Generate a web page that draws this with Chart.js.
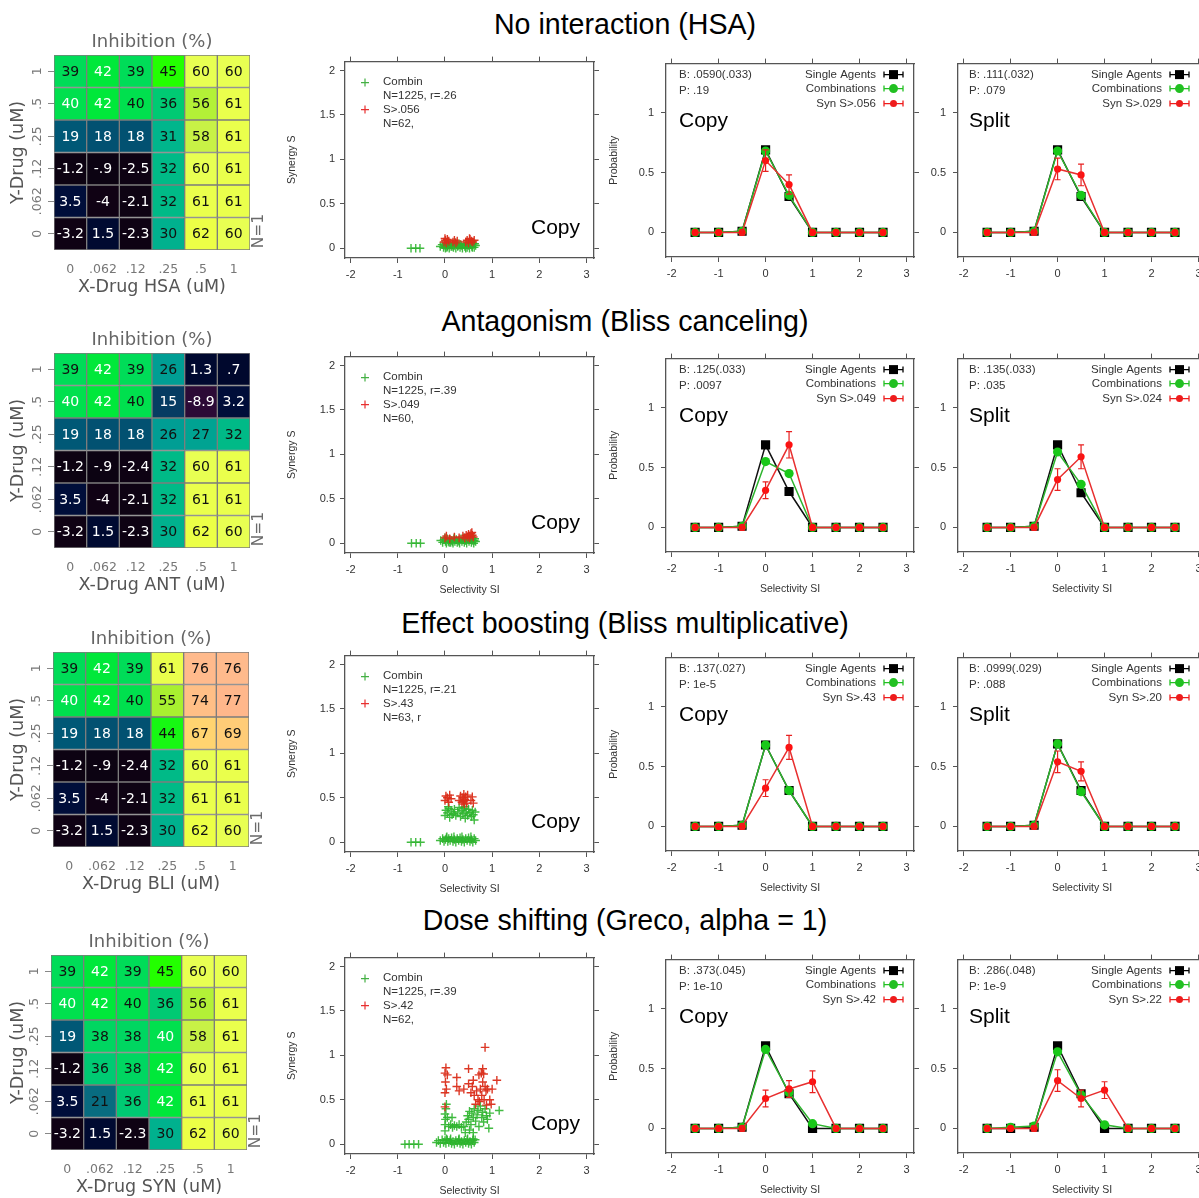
<!DOCTYPE html>
<html><head><meta charset="utf-8">
<script src="https://cdn.jsdelivr.net/npm/chart.js@4.4.1/dist/chart.umd.min.js"></script>
<style>
html,body{margin:0;padding:0;background:#fff;overflow:hidden;}
body{position:relative;width:1199px;height:1198px;}
canvas{position:absolute;}
.rt{position:absolute;left:0;width:1250px;text-align:center;font-family:'Liberation Sans',Arial,sans-serif;font-size:28.6px;color:#000;line-height:32px;white-space:nowrap;}
</style></head><body>
<script>
// ---------------- DATA ----------------
const rowTitles = ['No interaction (HSA)','Antagonism (Bliss canceling)','Effect boosting (Bliss multiplicative)','Dose shifting (Greco, alpha = 1)'];
const drugNames = ['HSA','ANT','BLI','SYN'];
const doseLabels = ['0','.062','.12','.25','.5','1'];
const yDoseLabels = ['1','.5','.25','.12','.062','0'];
const siBins = [-1.5,-1,-0.5,0,0.5,1,1.5,2,2.5];
const siTicks = [-2,-1,0,1,2,3];
const synTicks = [0,0.5,1,1.5,2];
const probTicks = [0,0.5,1];

// inhibition (%) grids, rows from Y=1 (top) to Y=0 (bottom)
const inhibHSA = [[39,42,39,45,60,60],[40,42,40,36,56,61],[19,18,18,31,58,61],[-1.2,-0.9,-2.5,32,60,61],[3.5,-4,-2.1,32,61,61],[-3.2,1.5,-2.3,30,62,60]];
const inhibANT = [[39,42,39,26,1.3,0.7],[40,42,40,15,-8.9,3.2],[19,18,18,26,27,32],[-1.2,-0.9,-2.4,32,60,61],[3.5,-4,-2.1,32,61,61],[-3.2,1.5,-2.3,30,62,60]];
const inhibBLI = [[39,42,39,61,76,76],[40,42,40,55,74,77],[19,18,18,44,67,69],[-1.2,-0.9,-2.4,32,60,61],[3.5,-4,-2.1,32,61,61],[-3.2,1.5,-2.3,30,62,60]];
const inhibSYN = [[39,42,39,45,60,60],[40,42,40,36,56,61],[19,38,38,40,58,61],[-1.2,36,38,42,60,61],[3.5,21,36,42,61,61],[-3.2,1.5,-2.3,30,62,60]];
// cells whose number is printed in white
const whiteHSA = [[0,1,0,0,0,0],[1,1,0,0,0,0],[1,1,1,0,0,0],[1,1,1,0,0,0],[1,1,1,0,0,0],[1,1,1,0,0,0]];
const whiteANT = [[0,1,0,0,1,1],[1,1,0,1,1,1],[1,1,1,0,0,0],[1,1,1,0,0,0],[1,1,1,0,0,0],[1,1,1,0,0,0]];
const whiteBLI = [[0,1,0,0,0,0],[1,1,0,0,0,0],[1,1,1,0,0,0],[1,1,1,0,0,0],[1,1,1,0,0,0],[1,1,1,0,0,0]];
const whiteSYN = [[0,1,0,0,0,0],[1,1,0,0,0,0],[1,0,0,1,0,0],[1,0,0,1,0,0],[1,0,0,1,0,0],[1,1,1,0,0,0]];

// scatter: [selectivity SI, synergy S]
const hsaCombin = [[-0.72,0],[-0.62,0],[-0.53,0],[-0.1,0.02],[-0.06,0.04],[-0.03,0.01],[0,0.03],[0.02,0.05],[0.04,0.01],[0.06,0.03],[0.09,0],[0.11,0.04],[0.13,0.02],[0.16,0.05],[0.18,0.01],[0.2,0.03],[0.23,0],[0.25,0.04],[0.27,0.02],[0.3,0.05],[0.32,0.01],[0.35,0.03],[0.37,0],[0.4,0.04],[0.42,0.02],[0.45,0.05],[0.47,0.01],[0.5,0.03],[0.52,0],[0.55,0.04],[0.57,0.02],[0.6,0.05],[0.62,0.01],[0.65,0.03],[0.01,0],[0.08,0.06],[0.15,0.02],[0.22,0.06],[0.33,0.04],[0.44,0],[0.53,0.06],[0.58,0.01],[0.63,0.05],[0.05,0.02],[0.28,0.03]];
const hsaSyn = [[-0.02,0.07],[0.01,0.09],[0.03,0.06],[0.05,0.1],[0.08,0.08],[0.17,0.07],[0.2,0.09],[0.23,0.06],[0.26,0.08],[0.44,0.07],[0.47,0.09],[0.5,0.06],[0.53,0.1],[0.56,0.08],[0.59,0.07],[0.62,0.09],[0,0.11],[0.52,0.11]];
const antCombin = [[-0.71,0],[-0.61,0],[-0.52,0],[-0.09,0.03],[-0.05,0.01],[-0.02,0.04],[0.01,0.02],[0.03,0],[0.05,0.05],[0.07,0.02],[0.1,0.04],[0.12,0.01],[0.14,0.03],[0.17,0],[0.19,0.05],[0.21,0.02],[0.24,0.04],[0.26,0.01],[0.29,0.03],[0.31,0],[0.34,0.05],[0.36,0.02],[0.39,0.04],[0.41,0.01],[0.43,0.03],[0.46,0],[0.48,0.05],[0.51,0.02],[0.54,0.04],[0.56,0.01],[0.59,0.03],[0.61,0],[0.63,0.05],[0.65,0.02],[0,0.06],[0.09,0.01],[0.2,0.06],[0.3,0.02],[0.4,0.06],[0.5,0.04],[0.57,0.06],[0.62,0.03],[0.16,0.02],[0.45,0.03]];
const antSyn = [[0,0.06],[0.03,0.08],[0.1,0.05],[0.2,0.07],[0.3,0.06],[0.38,0.08],[0.42,0.06],[0.45,0.09],[0.48,0.07],[0.5,0.1],[0.53,0.08],[0.55,0.11],[0.58,0.09],[0.6,0.07],[0.57,0.12],[0.52,0.06]];
const bliCombin = [[-0.72,0],[-0.62,0],[-0.52,0],[-0.1,0.02],[-0.05,0.04],[-0.02,0.01],[0.01,0.03],[0.03,0.05],[0.06,0.01],[0.08,0.04],[0.11,0.02],[0.14,0.05],[0.17,0.01],[0.2,0.03],[0.23,0],[0.26,0.04],[0.29,0.02],[0.32,0.05],[0.35,0.01],[0.38,0.03],[0.41,0],[0.44,0.04],[0.47,0.02],[0.5,0.05],[0.53,0.01],[0.56,0.03],[0.59,0],[0.62,0.04],[0.65,0.02],[0.04,0.06],[0.19,0.06],[0.36,0.06],[0.55,0.06],[0,0.3],[0.02,0.36],[0.05,0.33],[0.08,0.38],[0.1,0.28],[0.13,0.35],[0.15,0.31],[0.2,0.37],[0.23,0.3],[0.27,0.34],[0.3,0.39],[0.33,0.29],[0.36,0.36],[0.38,0.32],[0.4,0.38],[0.43,0.27],[0.45,0.34],[0.48,0.3],[0.5,0.37],[0.53,0.33],[0.56,0.29],[0.58,0.36],[0.6,0.31],[0.62,0.25],[0.64,0.34],[0.07,0.4],[0.18,0.32],[0.42,0.4]];
const bliSyn = [[0,0.47],[0.02,0.52],[0.05,0.5],[0.08,0.45],[0.1,0.53],[0.13,0.49],[0.3,0.47],[0.33,0.52],[0.36,0.45],[0.38,0.5],[0.4,0.54],[0.42,0.48],[0.44,0.51],[0.46,0.44],[0.48,0.53],[0.55,0.47],[0.58,0.51],[0.6,0.44],[0.39,0.46],[0.41,0.43]];
const synCombin = [[-0.85,0],[-0.76,0],[-0.66,0],[-0.56,0],[-0.18,0.02],[-0.14,0.04],[-0.1,0.01],[-0.06,0.05],[-0.03,0.02],[0,0.04],[0.02,0.01],[0.05,0.05],[0.08,0.02],[0.11,0.04],[0.14,0.01],[0.17,0.03],[0.2,0],[0.23,0.04],[0.26,0.02],[0.29,0.05],[0.32,0.01],[0.35,0.03],[0.38,0],[0.41,0.04],[0.44,0.02],[0.47,0.05],[0.5,0.01],[0.53,0.03],[0.56,0],[0.59,0.04],[0.62,0.02],[0.64,0.05],[0.03,0.06],[0.12,0.06],[0.3,0.06],[0.48,0.06],[0.6,0.06],[0,0.15],[0,0.22],[0.01,0.28],[0,0.34],[0.02,0.4],[0.03,0.45],[0.08,0.2],[0.12,0.22],[0.16,0.19],[0.2,0.21],[0.25,0.2],[0.3,0.22],[0.35,0.19],[0.4,0.2],[0.43,0.13],[0.45,0.25],[0.48,0.32],[0.5,0.28],[0.52,0.37],[0.55,0.22],[0.57,0.35],[0.6,0.3],[0.62,0.4],[0.65,0.26],[0.68,0.33],[0.7,0.38],[0.72,0.2],[0.75,0.43],[0.78,0.3],[0.8,0.36],[0.82,0.25],[0.85,0.4],[0.88,0.32],[0.9,0.28],[0.93,0.18],[0.95,0.35],[1.15,0.38],[0.6,0.13],[0.52,0.16],[0.15,0.3],[0.05,0.3]];
const synSyn = [[0,0.42],[0,0.58],[0.01,0.7],[0,0.8],[0.02,0.86],[0.05,0.78],[0.03,0.62],[0.25,0.65],[0.25,0.75],[0.5,0.68],[0.5,0.85],[0.55,0.58],[0.58,0.65],[0.6,0.72],[0.62,0.55],[0.65,0.45],[0.67,0.6],[0.7,0.5],[0.72,0.78],[0.73,0.48],[0.75,0.62],[0.77,0.8],[0.78,0.55],[0.8,0.85],[0.8,0.7],[0.82,0.79],[0.83,0.5],[0.85,0.65],[0.87,0.6],[0.88,0.44],[0.9,0.62],[0.95,0.5],[0.98,0.45],[1,0.62],[1.1,0.72],[0.85,1.09],[0.4,0.62],[0.3,0.6]];
const scatterLegends = [['N=1225, r=.26','S>.056','N=62,'],['N=1225, r=.39','S>.049','N=60,'],['N=1225, r=.21','S>.43','N=63, r'],['N=1225, r=.39','S>.42','N=62,']];

// probability vs selectivity bins
const hsaCopySingle = [0,0,0.01,0.69,0.30,0,0,0,0];
const hsaCopyComb   = [0,0,0.01,0.68,0.31,0,0,0,0];
const hsaCopySyn    = [0,0,0,0.60,0.40,0,0,0,0];
const hsaCopyErr    = [0,0,0.02,0.09,0.08,0,0,0,0];
const hsaSplitSingle= [0,0,0.01,0.69,0.30,0,0,0,0];
const hsaSplitComb  = [0,0,0.01,0.68,0.31,0,0,0,0];
const hsaSplitSyn   = [0,0,0,0.53,0.48,0,0,0,0];
const hsaSplitErr   = [0,0,0.02,0.09,0.09,0,0,0,0];
const antCopySingle = [0,0,0.01,0.69,0.30,0,0,0,0];
const antCopyComb   = [0,0,0.01,0.55,0.45,0,0,0,0];
const antCopySyn    = [0,0,0,0.31,0.69,0,0,0,0];
const antCopyErr    = [0,0,0.02,0.07,0.11,0,0,0,0];
const antSplitSingle= [0,0,0.01,0.69,0.29,0,0,0,0];
const antSplitComb  = [0,0,0.01,0.63,0.36,0,0,0,0];
const antSplitSyn   = [0,0,0,0.40,0.59,0,0,0,0];
const antSplitErr   = [0,0,0.02,0.09,0.10,0,0,0,0];
const bliCopySingle = [0,0,0.01,0.68,0.30,0,0,0,0];
const bliCopyComb   = [0,0,0.01,0.68,0.30,0,0,0,0];
const bliCopySyn    = [0,0,0,0.32,0.66,0,0,0,0];
const bliCopyErr    = [0,0,0.02,0.07,0.10,0,0,0,0];
const bliSplitSingle= [0,0,0.01,0.69,0.30,0,0,0,0];
const bliSplitComb  = [0,0,0.01,0.69,0.29,0,0,0,0];
const bliSplitSyn   = [0,0,0,0.54,0.46,0,0,0,0];
const bliSplitErr   = [0,0,0.02,0.09,0.08,0,0,0,0];
const synCopySingle = [0,0,0.01,0.69,0.29,0,0,0,0];
const synCopyComb   = [0,0,0.01,0.66,0.30,0.04,0,0,0];
const synCopySyn    = [0,0,0,0.25,0.33,0.39,0,0,0];
const synCopyErr    = [0,0,0.02,0.07,0.07,0.09,0,0,0];
const synSplitSingle= [0,0,0.01,0.69,0.29,0,0,0,0];
const synSplitComb  = [0,0.01,0.02,0.64,0.28,0.03,0,0,0];
const synSplitSyn   = [0,0,0,0.40,0.25,0.32,0,0,0];
const synSplitErr   = [0,0,0.02,0.09,0.07,0.07,0,0,0];
const hsaCopyText  = ['B: .0590(.033)','P: .19','Syn S>.056'];
const hsaSplitText = ['B: .111(.032)','P: .079','Syn S>.029'];
const antCopyText  = ['B: .125(.033)','P: .0097','Syn S>.049'];
const antSplitText = ['B: .135(.033)','P: .035','Syn S>.024'];
const bliCopyText  = ['B: .137(.027)','P: 1e-5','Syn S>.43'];
const bliSplitText = ['B: .0999(.029)','P: .088','Syn S>.20'];
const synCopyText  = ['B: .373(.045)','P: 1e-10','Syn S>.42'];
const synSplitText = ['B: .286(.048)','P: 1e-9','Syn S>.22'];

// ---------------- LAYOUT / STYLE ----------------
const rowTop = [60,355,654,956];
const heatTop = [55,353,652,955];
const heatLeft = [54,54,53,51];
const titleY = [24,321,623,920];
const SANS = "'Liberation Sans', Arial, sans-serif";
const HEAT = "'DejaVu Sans', Verdana, sans-serif";
Chart.defaults.animation = false;
Chart.defaults.font.family = SANS;

const heatStops = [[-9,[45,10,55]],[-4,[16,2,20]],[-0.5,[12,3,18]],[0.7,[0,8,45]],[3.5,[0,14,58]],[15,[6,60,98]],[19,[0,88,118]],[21,[8,108,128]],[26,[0,158,148]],[31,[0,182,140]],[36,[0,202,115]],[39,[0,220,88]],[42,[0,232,58]],[45,[35,255,0]],[55,[168,240,48]],[58,[200,242,70]],[60,[232,255,82]],[62,[236,255,70]],[67,[255,212,112]],[70,[255,200,122]],[76,[255,186,140]],[78,[255,180,138]]];
function heatColor(v){
  if (v<=heatStops[0][0]) return 'rgb('+heatStops[0][1].join(',')+')';
  for (let i=1;i<heatStops.length;i++){
    if (v<=heatStops[i][0]){
      const [a,ca]=heatStops[i-1],[b,cb]=heatStops[i];const t=(v-a)/(b-a);
      return 'rgb('+ca.map((c,k)=>Math.round(c+(cb[k]-c)*t)).join(',')+')';
    }
  }
  return 'rgb('+heatStops[heatStops.length-1][1].join(',')+')';
}
function fmtVal(v){let s=String(v);if(s.startsWith('0.'))s=s.slice(1);else if(s.startsWith('-0.'))s='-'+s.slice(2);return s;}
function addCanvas(l,t,w,h){const c=document.createElement('canvas');c.width=w;c.height=h;c.style.left=l+'px';c.style.top=t+'px';c.style.width=w+'px';c.style.height=h+'px';document.body.appendChild(c);return c;}
function rotText(ctx,txt,x,y){ctx.save();ctx.translate(x,y);ctx.rotate(-Math.PI/2);ctx.textAlign='center';ctx.textBaseline='middle';ctx.fillText(txt,0,0);ctx.restore();}

rowTitles.forEach((t,i)=>{const d=document.createElement('div');d.className='rt';d.style.top=(titleY[i]-16)+'px';d.textContent=t;document.body.appendChild(d);});

// ---------------- HEATMAPS ----------------
const heatValues=[inhibHSA,inhibANT,inhibBLI,inhibSYN];
const heatWhite=[whiteHSA,whiteANT,whiteBLI,whiteSYN];
function makeHeat(r){
  const values=heatValues[r], white=heatWhite[r];
  const gL=heatLeft[r], cw=196, cvT=heatTop[r]-35, cvW=280, cvH=290;
  const cv=addCanvas(0,cvT,cvW,cvH);
  const datasets=[];
  for(let d=0;d<6;d++){const row=values[5-d];
    datasets.push({data:row.map(()=>1),backgroundColor:row.map(heatColor),borderColor:'#7d7d7d',borderWidth:1,borderSkipped:false,barPercentage:1,categoryPercentage:1});}
  const plugin={id:'heatText',afterDatasetsDraw(chart){
    const ctx=chart.ctx,a=chart.chartArea;ctx.save();
    ctx.font='14px '+HEAT;ctx.textAlign='center';ctx.textBaseline='middle';
    chart.data.datasets.forEach((ds,d)=>{const meta=chart.getDatasetMeta(d);const rowI=5-d;
      meta.data.forEach((el,c)=>{ctx.fillStyle=white[rowI][c]?'#ffffff':'#111111';ctx.fillText(fmtVal(values[rowI][c]),el.x,(el.y+el.base)/2+1);});});
    const ys=chart.scales.y;ctx.fillStyle='#777';ctx.font='12.5px '+HEAT;
    yDoseLabels.forEach((lab,i)=>rotText(ctx,lab,a.left-16,ys.getPixelForValue(5.5-i)));
    ctx.fillStyle='#666';ctx.font='18px '+HEAT;ctx.fillText('Inhibition (%)',(a.left+a.right)/2,a.top-13);
    ctx.fillStyle='#6a6a6a';ctx.font='15.5px '+HEAT;rotText(ctx,'N=1',a.right+9,a.bottom-19);
    ctx.fillStyle='#555';ctx.font='17.5px '+HEAT;ctx.fillText('X-Drug '+drugNames[r]+' (uM)',(a.left+a.right)/2,a.bottom+37);
    rotText(ctx,'Y-Drug (uM)',18,(a.top+a.bottom)/2);
    ctx.restore();}};
  new Chart(cv,{type:'bar',data:{labels:doseLabels,datasets},plugins:[plugin],
    options:{responsive:false,events:[],layout:{padding:{left:0,top:35,right:cvW-gL-cw,bottom:0}},
      plugins:{legend:{display:false},tooltip:{enabled:false}},
      scales:{
        x:{type:'category',stacked:true,grid:{display:false},border:{display:false},ticks:{color:'#777',font:{family:HEAT,size:12.5},padding:4,maxRotation:0},afterFit:s=>{s.height=60;}},
        y:{type:'linear',stacked:true,min:0,max:6,afterBuildTicks:s=>{s.ticks=[0.5,1.5,2.5,3.5,4.5,5.5].map(v=>({value:v}));},ticks:{callback:()=>''},grid:{drawOnChartArea:false,tickLength:6,color:'#888'},border:{display:false},afterFit:s=>{s.width=gL;}}
      }}});
}

// ---------------- FRAMED PLOTS ----------------
function frameScales(cvL,cvT,cvW,cvH,a,xr,yr,yTicks,yPad){
  const tickFont={family:SANS,size:11};
  const grid={drawOnChartArea:false,tickLength:5,color:'#555',lineWidth:1};
  const border={display:true,color:'#555',width:1.3};
  const xt=s=>{s.ticks=siTicks.map(v=>({value:v}));};
  const yt=s=>{s.ticks=yTicks.map(v=>({value:v}));};
  return {
    x:{type:'linear',position:'bottom',min:xr[0],max:xr[1],afterBuildTicks:xt,ticks:{color:'#333',font:tickFont,padding:5,maxRotation:0,autoSkip:false,callback:v=>String(v)},grid,border,afterFit:s=>{s.height=cvT+cvH-a.b;}},
    x2:{type:'linear',position:'top',min:xr[0],max:xr[1],afterBuildTicks:xt,ticks:{callback:()=>'' ,autoSkip:false},grid,border,afterFit:s=>{s.height=a.t-cvT;}},
    y:{type:'linear',position:'left',min:yr[0],max:yr[1],afterBuildTicks:yt,ticks:{color:'#333',font:tickFont,padding:yPad,autoSkip:false,callback:v=>String(v)},grid,border,afterFit:s=>{s.width=a.l-cvL;}},
    y2:{type:'linear',position:'right',min:yr[0],max:yr[1],afterBuildTicks:yt,ticks:{callback:()=>'',autoSkip:false},grid,border,afterFit:s=>{s.width=6;}}
  };
}
function drawPlus(ctx,x,y,r,color){ctx.strokeStyle=color;ctx.lineWidth=1.2;ctx.beginPath();ctx.moveTo(x-r,y);ctx.lineTo(x+r,y);ctx.moveTo(x,y-r);ctx.lineTo(x,y+r);ctx.stroke();}

const scatterData=[[hsaCombin,hsaSyn],[antCombin,antSyn],[bliCombin,bliSyn],[synCombin,synSyn]];
function makeScatter(r){
  const cvL=280,cvT=rowTop[r]-10,cvW=325,cvH=(r===0?238:250);
  const a={l:345,r:594,t:rowTop[r],b:rowTop[r]+198};
  const cv=addCanvas(cvL,cvT,cvW,cvH);
  const toXY=arr=>arr.map(p=>({x:p[0],y:p[1]}));
  const leg=scatterLegends[r];
  const plugin={id:'scText',afterDraw(chart){
    const ctx=chart.ctx,ca=chart.chartArea;ctx.save();
    ctx.textBaseline='middle';ctx.textAlign='left';ctx.font='11.5px '+SANS;ctx.fillStyle='#333';
    drawPlus(ctx,ca.left+20,ca.top+21,4,'#44b044');ctx.fillText('Combin',ca.left+38,ca.top+20);
    ctx.fillText(leg[0],ca.left+38,ca.top+34);
    drawPlus(ctx,ca.left+20,ca.top+48,4,'#e83030');ctx.fillStyle='#333';ctx.fillText(leg[1],ca.left+38,ca.top+48);
    ctx.fillText(leg[2],ca.left+38,ca.top+62);
    ctx.fillStyle='#000';ctx.font='21px '+SANS;ctx.textAlign='right';ctx.textBaseline='alphabetic';ctx.fillText('Copy',ca.right-14,ca.bottom-24);
    ctx.fillStyle='#333';ctx.font='10.5px '+SANS;ctx.textBaseline='middle';
    rotText(ctx,'Synergy S',ca.left-53,(ca.top+ca.bottom)/2);
    ctx.textAlign='center';ctx.fillText('Selectivity SI',(ca.left+ca.right)/2,ca.bottom+37);
    ctx.restore();}};
  new Chart(cv,{type:'scatter',data:{datasets:[
      {label:'Combin',data:toXY(scatterData[r][0]),pointStyle:'cross',pointRadius:4.3,borderColor:'rgba(45,180,45,0.9)',borderWidth:1.4,order:2},
      {label:'Syn',data:toXY(scatterData[r][1]),pointStyle:'cross',pointRadius:4.3,borderColor:'rgba(218,45,25,0.95)',borderWidth:1.4,order:1}]},
    plugins:[plugin],
    options:{responsive:false,events:[],layout:{padding:{left:0,top:0,bottom:0,right:cvL+cvW-a.r-6}},
      plugins:{legend:{display:false},tooltip:{enabled:false}},
      scales:frameScales(cvL,cvT,cvW,cvH,a,[-2.12,3.16],[-0.11,2.1],synTicks,5)}});
}

const lineSets=[
  [[hsaCopySingle,hsaCopyComb,hsaCopySyn,hsaCopyErr,hsaCopyText],[hsaSplitSingle,hsaSplitComb,hsaSplitSyn,hsaSplitErr,hsaSplitText]],
  [[antCopySingle,antCopyComb,antCopySyn,antCopyErr,antCopyText],[antSplitSingle,antSplitComb,antSplitSyn,antSplitErr,antSplitText]],
  [[bliCopySingle,bliCopyComb,bliCopySyn,bliCopyErr,bliCopyText],[bliSplitSingle,bliSplitComb,bliSplitSyn,bliSplitErr,bliSplitText]],
  [[synCopySingle,synCopyComb,synCopySyn,synCopyErr,synCopyText],[synSplitSingle,synSplitComb,synSplitSyn,synSplitErr,synSplitText]]];
function legendSymbol(ctx,x0,x1,y,color,kind){
  ctx.strokeStyle=color;ctx.fillStyle=color;ctx.lineWidth=1.3;
  ctx.beginPath();ctx.moveTo(x0,y);ctx.lineTo(x1,y);ctx.moveTo(x0,y-3);ctx.lineTo(x0,y+3);ctx.moveTo(x1,y-3);ctx.lineTo(x1,y+3);ctx.stroke();
  const xm=(x0+x1)/2;ctx.beginPath();
  if(kind==='rect')ctx.rect(xm-4.5,y-4.5,9,9);else ctx.arc(xm,y,kind==='big'?4.5:3.5,0,Math.PI*2);
  ctx.fill();
}
function makeLine(r,which){
  const [single,comb,syn,err,txt]=lineSets[r][which];
  const copy=which===0;
  const cvL=copy?600:920,cvT=rowTop[r]-10,cvW=copy?325:300,cvH=(r===0?238:250);
  const a=copy?{l:666,r:914,t:rowTop[r],b:rowTop[r]+197}:{l:958,r:1206,t:rowTop[r],b:rowTop[r]+197};
  const cv=addCanvas(cvL,cvT,cvW,cvH);
  const pts=arr=>siBins.map((x,i)=>({x,y:arr[i]}));
  const plugin={id:'lineText',
    afterDatasetsDraw(chart){
      const ctx=chart.ctx,xs=chart.scales.x,ys=chart.scales.y;ctx.save();
      ctx.strokeStyle='#e82020';ctx.lineWidth=1.2;
      siBins.forEach((xv,i)=>{if(err[i]>0){const px=xs.getPixelForValue(xv),y1=ys.getPixelForValue(syn[i]-err[i]),y2=ys.getPixelForValue(syn[i]+err[i]);
        ctx.beginPath();ctx.moveTo(px,y1);ctx.lineTo(px,y2);ctx.moveTo(px-3,y1);ctx.lineTo(px+3,y1);ctx.moveTo(px-3,y2);ctx.lineTo(px+3,y2);ctx.stroke();}});
      ctx.restore();},
    afterDraw(chart){
      const ctx=chart.ctx,ca=chart.chartArea;ctx.save();
      ctx.font='11.5px '+SANS;ctx.fillStyle='#333';ctx.textBaseline='middle';ctx.textAlign='left';
      const tl=ca.left+(copy?13:11);
      ctx.fillText(txt[0],tl,ca.top+11);ctx.fillText(txt[1],tl,ca.top+27);
      const tr=ca.right-(copy?38:44);
      ctx.textAlign='right';
      ctx.fillText('Single Agents',tr,ca.top+11);ctx.fillText('Combinations',tr,ca.top+25);ctx.fillText(txt[2],tr,ca.top+40);
      legendSymbol(ctx,tr+8,tr+27,ca.top+11,'#000','rect');
      legendSymbol(ctx,tr+8,tr+27,ca.top+25,'#22c022','big');
      legendSymbol(ctx,tr+8,tr+27,ca.top+40,'#ee1c1c','small');
      ctx.fillStyle='#000';ctx.font='21px '+SANS;ctx.textAlign='left';ctx.textBaseline='alphabetic';
      ctx.fillText(copy?'Copy':'Split',tl,ca.top+63);
      ctx.fillStyle='#333';ctx.font='10.5px '+SANS;ctx.textBaseline='middle';
      if(copy)rotText(ctx,'Probability',ca.left-52,(ca.top+ca.bottom)/2);
      ctx.textAlign='center';ctx.fillText('Selectivity SI',(ca.left+ca.right)/2,ca.bottom+37);
      ctx.restore();}};
  new Chart(cv,{type:'line',data:{datasets:[
      {label:'Single Agents',data:pts(single),borderColor:'#111',backgroundColor:'#000',borderWidth:1.5,pointStyle:'rect',pointRadius:6.5,pointBorderWidth:0,order:3},
      {label:'Combinations',data:pts(comb),borderColor:'#2db42d',backgroundColor:'#19c819',borderWidth:1.5,pointStyle:'circle',pointRadius:4.6,pointBorderWidth:0,order:2},
      {label:txt[2],data:pts(syn),borderColor:'#e83030',backgroundColor:'#ff1010',borderWidth:1.5,pointStyle:'circle',pointRadius:3.6,pointBorderWidth:0,order:1}]},
    plugins:[plugin],
    options:{responsive:false,events:[],layout:{padding:{left:0,top:0,bottom:0,right:cvL+cvW-a.r-6}},
      plugins:{legend:{display:false},tooltip:{enabled:false}},
      scales:frameScales(cvL,cvT,cvW,cvH,a,[-2.12,3.16],[-0.205,1.41],probTicks,7)}});
}

for(let r=0;r<4;r++){makeHeat(r);makeScatter(r);makeLine(r,0);makeLine(r,1);}
</script>
</body></html>
